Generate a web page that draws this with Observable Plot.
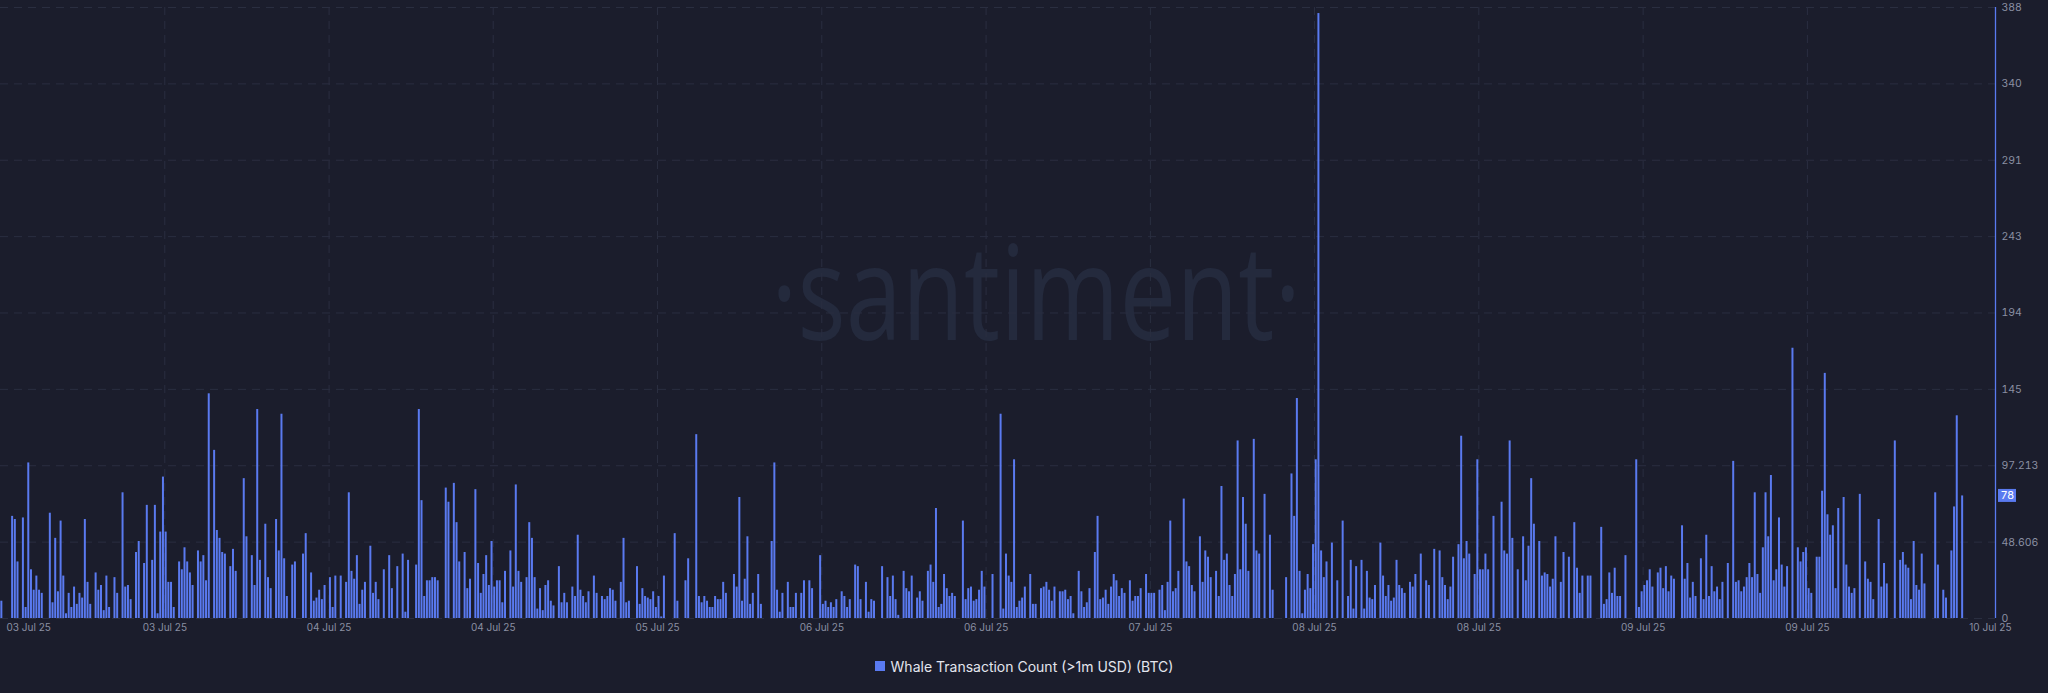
<!DOCTYPE html>
<html>
<head>
<meta charset="utf-8">
<script src="https://cdn.jsdelivr.net/npm/d3@7"></script>
<script src="https://cdn.jsdelivr.net/npm/@observablehq/plot@0.6"></script>
<style>
  html, body { margin: 0; padding: 0; background: #1b1d2c; }
  #chart { width: 2048px; height: 693px; overflow: hidden; background: #1b1d2c; }
  .legend { height: 42px; display: flex; align-items: center; justify-content: center;
            font-family: Inter, "Open Sans", sans-serif; font-size: 14px; color: #e3e5ee; }
  .legend .sw { width: 10px; height: 10px; background: #5a7af0; margin-right: 6px; }
</style>
</head>
<body>
<div id="chart"></div>
<script>
// ---- data ----
const seriesName = "Whale Transaction Count (>1m USD) (BTC)";
const startTime = "2025-07-03T00:00:00Z";
const intervalMinutes = 15;
const domainEndTime = "2025-07-10T17:10:30Z";

const counts = [
  11,0,0,0,65,63,36,0,64,7,
  99,31,18,27,18,16,0,0,67,10,
  51,17,62,27,3,16,7,20,9,16,
  13,63,23,9,0,29,18,21,5,27,
  7,0,26,16,0,80,20,21,12,0,
  42,49,0,35,72,0,37,72,3,55,
  90,55,23,23,7,0,36,31,45,36,
  29,21,0,43,36,40,24,143,0,107,
  56,51,42,41,0,33,44,30,0,0,
  89,52,0,40,21,133,37,0,60,26,
  19,0,63,43,130,38,14,0,34,36,
  0,0,41,54,0,29,11,13,18,12,
  21,0,26,7,27,0,27,0,23,80,
  30,25,40,9,18,23,0,46,16,23,
  12,0,31,0,40,19,0,33,0,41,
  4,37,0,0,34,133,75,14,24,24,
  26,26,24,0,0,83,74,0,86,61,
  36,0,42,19,25,0,82,35,16,28,
  40,21,49,20,24,24,10,30,0,43,
  20,85,30,23,0,26,61,51,26,6,
  19,5,21,24,11,8,0,33,10,16,
  10,0,20,14,53,18,14,10,17,0,
  27,16,0,14,12,14,19,18,11,0,
  23,51,10,11,0,0,33,9,19,14,
  13,12,17,7,14,1,27,0,0,0,
  54,11,0,0,24,38,0,0,117,14,
  10,14,11,7,7,14,12,12,23,16,
  0,0,28,20,77,11,25,52,9,16,
  0,28,9,0,0,0,49,99,18,4,
  16,0,23,7,7,16,0,16,24,0,
  24,19,0,0,40,9,11,7,10,7,
  12,0,17,14,7,12,0,34,33,12,
  0,23,4,12,11,0,0,33,0,26,
  14,27,12,2,0,30,19,17,27,0,
  13,17,11,0,30,34,23,70,7,9,
  28,19,14,16,14,0,0,62,12,19,
  20,11,12,18,30,20,0,0,28,0,
  0,130,6,41,27,23,101,7,11,13,
  20,0,28,9,9,0,19,20,23,18,
  11,20,0,17,17,18,12,14,3,0,
  30,17,7,10,19,0,42,65,12,13,
  18,9,20,28,24,14,19,16,0,24,
  11,14,14,19,0,28,16,16,16,0,
  18,21,5,23,62,17,19,30,0,76,
  36,33,21,17,0,52,23,43,39,26,
  0,30,14,84,37,41,21,14,28,113,
  31,77,60,30,0,114,43,41,0,79,
  0,53,18,0,0,0,0,26,0,92,
  65,140,30,3,18,28,19,47,101,385,
  43,26,36,0,48,0,24,0,62,0,
  14,37,6,33,0,37,6,30,13,12,
  21,0,48,27,14,21,11,13,37,21,
  19,16,0,23,20,28,0,41,0,24,
  21,0,44,0,43,26,21,12,20,39,
  0,47,116,38,49,41,0,28,101,31,
  31,41,31,0,65,0,0,74,43,41,
  113,51,0,31,0,52,24,46,89,60,
  0,49,27,29,28,20,25,52,0,23,
  42,0,39,0,61,32,16,27,0,27,
  27,0,0,0,58,9,12,29,16,32,
  14,14,0,40,0,0,0,101,7,17,
  21,24,31,20,0,29,32,19,33,17,
  27,25,0,0,59,25,35,13,23,14,
  0,38,12,53,14,33,17,20,12,23,
  0,35,0,100,23,24,17,20,26,35,
  26,80,28,16,45,80,52,91,24,31,
  64,34,20,33,0,172,0,45,36,42,
  45,19,16,0,39,39,81,156,66,53,
  59,19,70,0,77,34,20,16,19,0,
  79,0,36,25,23,12,0,63,20,35,
  22,0,0,113,0,37,42,34,32,12,
  49,21,18,41,22,0,0,0,80,34,
  0,18,13,0,43,71,129,0,78
];

const xTickTimes = [
  "2025-07-03T00:00:00Z", "2025-07-03T15:15:00Z", "2025-07-04T06:30:00Z",
  "2025-07-04T21:44:00Z", "2025-07-05T12:59:00Z", "2025-07-06T04:14:00Z",
  "2025-07-06T19:29:00Z", "2025-07-07T10:44:00Z", "2025-07-08T01:58:00Z",
  "2025-07-08T17:13:00Z", "2025-07-09T08:28:00Z", "2025-07-09T23:43:00Z",
  "2025-07-10T16:42:00Z"
];
const xTickLabels = [
  "03 Jul 25", "03 Jul 25", "04 Jul 25", "04 Jul 25", "05 Jul 25", "06 Jul 25",
  "06 Jul 25", "07 Jul 25", "08 Jul 25", "08 Jul 25", "09 Jul 25", "09 Jul 25",
  "10 Jul 25"
];
const yTickValues = [0, 48.606, 97.213, 145.82, 194.43, 243.03, 291.64, 340.24, 388.85];
const yTickLabels = ["0", "48.606", "97.213", "145", "194", "243", "291", "340", "388"];
const watermarkText = "\u00B7santiment\u00B7";

// ---- build ----
const BG = "#1b1d2c";
const BLUE = "#5a7af0";
const GRID = "#2a2e40";
const LABEL = "#8a8fa2";
const ms = intervalMinutes * 60 * 1000;
const t0 = new Date(startTime).getTime();
const tEnd = new Date(domainEndTime);

const rows = counts.map((v, i) => ({
  t1: new Date(t0 + i * ms),
  t2: new Date(t0 + (i + 1) * ms),
  base: 0,
  v
}));
const last = rows[rows.length - 1];
const badge = [{x: tEnd, y: last.v}];

const ticks = xTickTimes.map((s, i) => ({t: new Date(s), label: xTickLabels[i]}));
const yLabelMap = new Map(yTickValues.map((v, i) => [v, yTickLabels[i]]));

const svg = Plot.plot({
  width: 2048,
  height: 645,
  marginLeft: 0,
  marginRight: 53,
  marginTop: 7,
  marginBottom: 27,
  style: {background: BG, color: LABEL, fontFamily: "Inter, 'Open Sans', sans-serif", fontSize: "10px"},
  x: {type: "utc", domain: [new Date(t0), tEnd], axis: null},
  y: {domain: [0, yTickValues[yTickValues.length - 1]], axis: null},
  marks: [
    Plot.text([watermarkText], {
      text: d => d, frameAnchor: "middle", dx: 38, dy: 27, lineAnchor: "bottom",
      fontSize: 132, fill: "#242a3d", fontFamily: "'Open Sans', sans-serif"
    }),
    Plot.ruleY(yTickValues, {stroke: GRID, strokeDasharray: "8,6", strokeWidth: 1}),
    Plot.ruleX(ticks.slice(1, 12), {x: "t", stroke: GRID, strokeDasharray: "8,6", strokeWidth: 1}),
    Plot.rect(rows, {
      x1: "t1", x2: "t2", y1: "base", y2: "v", fill: BLUE,
      insetLeft: 0.35, insetRight: 0.35
    }),
    Plot.ruleX([tEnd], {stroke: BLUE, strokeWidth: 1.3}),
    Plot.axisY({
      anchor: "right", ticks: yTickValues, tickSize: 0, tickPadding: 6,
      tickFormat: d => yLabelMap.get(d), fill: LABEL, fontSize: 10.5, label: null
    }),
    Plot.text(ticks.slice(0, 1), {
      x: "t", text: "label", frameAnchor: "bottom", dy: 12.5, dx: 6,
      textAnchor: "start", fill: LABEL, fontSize: 10
    }),
    Plot.text(ticks.slice(1), {
      x: "t", text: "label", frameAnchor: "bottom", dy: 12.5,
      fill: LABEL, fontSize: 10
    }),
    Plot.rect(badge, {
      x1: "x", x2: "x", y1: "y", y2: "y", fill: BLUE,
      insetLeft: 3, insetRight: -21, insetTop: -6.5, insetBottom: -6.5
    }),
    Plot.text(badge, {
      x: "x", y: "y", text: d => String(d.y), dx: 12, fill: "#ffffff", fontSize: 11
    })
  ]
});

// compress the watermark to the reference's width
d3.select(svg).selectAll("text")
  .filter(function() { return this.textContent === watermarkText; })
  .attr("textLength", 530)
  .attr("lengthAdjust", "spacingAndGlyphs");

const chart = document.getElementById("chart");
chart.appendChild(svg);

const legend = document.createElement("div");
legend.className = "legend";
const sw = document.createElement("span");
sw.className = "sw";
const lt = document.createElement("span");
lt.textContent = seriesName;
legend.appendChild(sw);
legend.appendChild(lt);
chart.appendChild(legend);
</script>
</body>
</html>
